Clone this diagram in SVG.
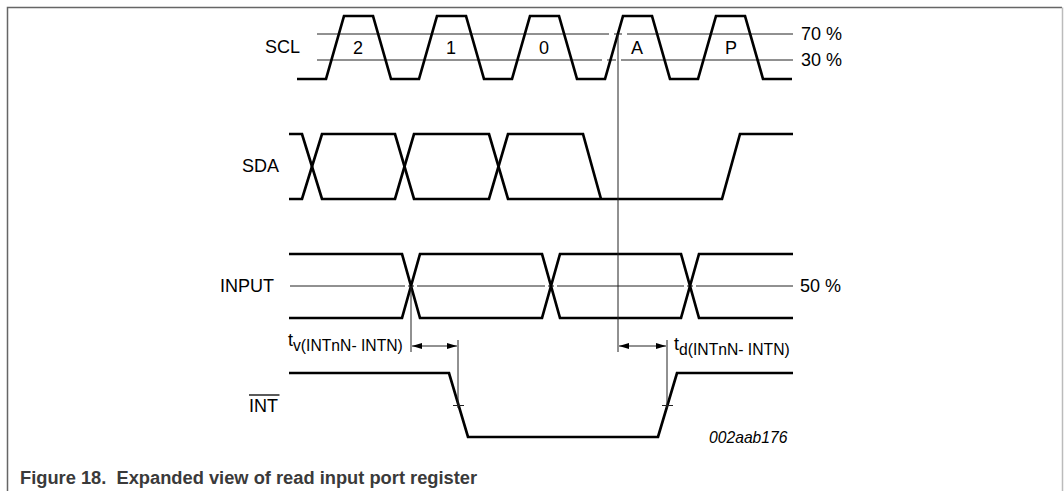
<svg xmlns="http://www.w3.org/2000/svg" width="1064" height="491" viewBox="0 0 1064 491">
<style>
.sig{fill:none;stroke:#000;stroke-width:2.7;stroke-linejoin:miter}
.thin{fill:none;stroke:#222;stroke-width:1}
.lbl{font-family:"Liberation Sans",Arial,sans-serif;font-size:18px;fill:#000}
.sub{font-family:"Liberation Sans",Arial,sans-serif;font-size:15.7px;fill:#000}
.ital{font-family:"Liberation Sans",Arial,sans-serif;font-size:15.7px;font-style:italic;fill:#000}
.cap{font-family:"Liberation Sans",Arial,sans-serif;font-size:18.3px;font-weight:bold;fill:#3a3a3a;white-space:pre}
</style>
<defs>
<marker id="ah" viewBox="0 0 10 6" refX="10" refY="3" markerWidth="10" markerHeight="6" markerUnits="userSpaceOnUse" orient="auto-start-reverse">
<path d="M0,0 L10,3 L0,6 Z" fill="#000"/>
</marker>
</defs>
<rect width="1064" height="491" fill="#fff"/>
<g id="frame">
<path d="M7.5,491 V7.5 H1062" fill="none" stroke="#666" stroke-width="1.5"/>
<path d="M1062.5,7.5 V491" fill="none" stroke="#bbb" stroke-width="1.5"/>
</g>
<g id="scl">
<text class="lbl" x="265" y="53">SCL</text>
<path class="thin" d="M317,34 H609 M614,34 H622 M627,34 H793"/>
<path class="thin" d="M317,60 H602 M607,60 H616 M621,60 H793"/>
<path class="sig" d="M297,79 H326 L344,16 H373 L391,79 H419 L437,16 H466 L484,79 H512 L530,16 H559 L577,79 H605 L623,16 H652 L670,79 H698 L716,16 H745 L763,79 H792"/>
<text class="lbl" x="358" y="54" text-anchor="middle">2</text>
<text class="lbl" x="451" y="54" text-anchor="middle">1</text>
<text class="lbl" x="544" y="54" text-anchor="middle">0</text>
<text class="lbl" x="637" y="54" text-anchor="middle">A</text>
<text class="lbl" x="731" y="54" text-anchor="middle">P</text>
<text class="lbl" x="801" y="40">70 %</text>
<text class="lbl" x="801" y="66">30 %</text>
</g>
<g id="sda">
<text class="lbl" x="242" y="172">SDA</text>
<path class="sig" d="M289,134 H302 L322,199 H395 L414,134 H489 L508,199 H722 L740,134 H793"/>
<path class="sig" d="M289,199 H302 L322,134 H395 L414,199 H489 L508,134 H583 L601,199"/>
</g>
<g id="input">
<text class="lbl" x="220" y="292">INPUT</text>
<path class="thin" d="M290,286 H405 M408,286 H414 M417,286 H545 M548,286 H554 M557,286 H684 M687,286 H693 M696,286 H793"/>
<path class="sig" d="M289,254 H402 L420,318 H542 L560,254 H681 L699,318 H793"/>
<path class="sig" d="M289,318 H402 L420,254 H542 L560,318 H681 L699,254 H793"/>
<text class="lbl" x="800" y="292">50 %</text>
</g>
<g id="int">
<text class="lbl" x="249" y="412">INT</text>
<path d="M249,395 H279.5" stroke="#000" stroke-width="1.3"/>
<path class="sig" d="M289,373 H449 L468,437 H658 L677,373 H793"/>
<path class="thin" d="M453,405.5 H464 M662,405.5 H673"/>
</g>
<g id="connectors">
<path class="thin" d="M618,34 V352"/>
<path class="thin" d="M411,286 V352"/>
<path class="thin" d="M458,340 V408"/>
<path class="thin" d="M667,340 V408"/>
<path class="thin" d="M412,346 H457" marker-start="url(#ah)" marker-end="url(#ah)"/>
<path class="thin" d="M619,346 H666" marker-start="url(#ah)" marker-end="url(#ah)"/>
</g>
<g id="labels">
<text x="288" y="346"><tspan class="lbl">t</tspan><tspan class="sub" dy="5">v(INTnN- INTN)</tspan></text>
<text x="674" y="350"><tspan class="lbl">t</tspan><tspan class="sub" dy="5">d(INTnN- INTN)</tspan></text>
<text class="ital" x="709" y="443">002aab176</text>
</g>
<text class="cap" x="20" y="484">Figure 18.  Expanded view of read input port register</text>
</svg>
